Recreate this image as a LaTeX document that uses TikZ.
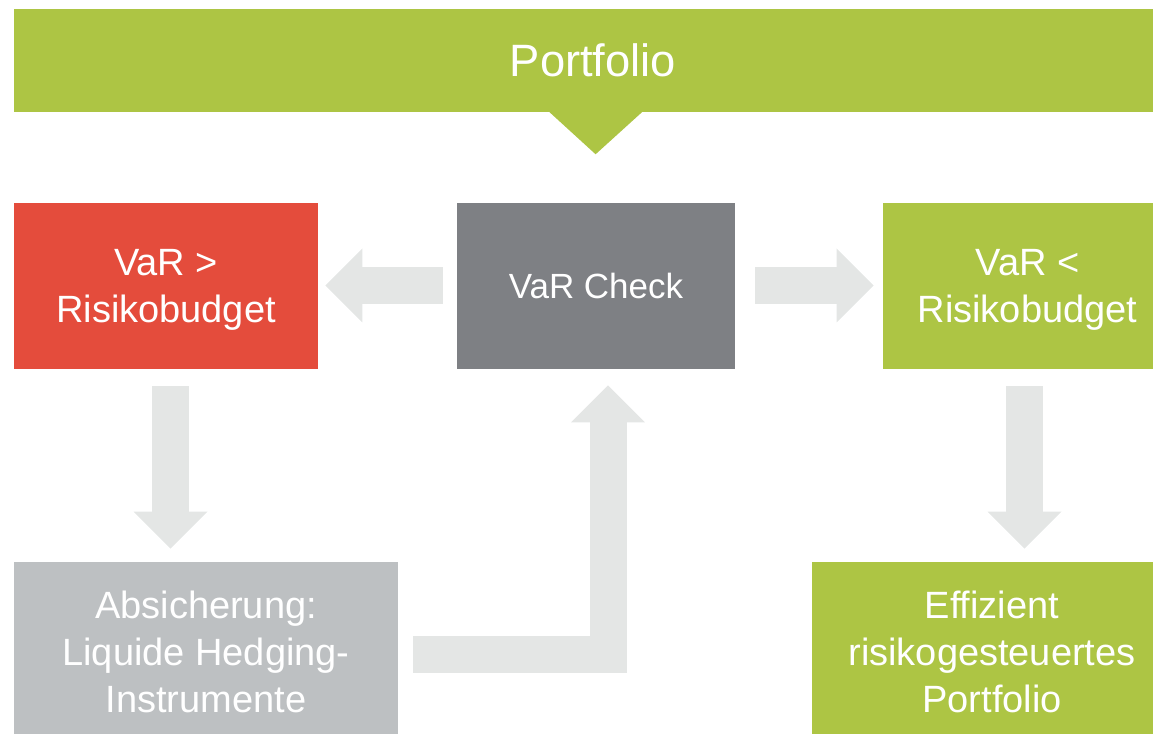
\documentclass[tikz,border=0pt]{standalone}
\usepackage{fontspec}
\setmainfont{Liberation Sans}
\usetikzlibrary{arrows.meta,calc}
\definecolor{gruen}{RGB}{173,197,68}
\definecolor{rot}{RGB}{228,76,60}
\definecolor{dunkelgrau}{RGB}{126,128,132}
\definecolor{hellgrau}{RGB}{189,192,194}
\definecolor{pfeilgrau}{RGB}{228,230,229}

\begin{document}
\begin{tikzpicture}[x=0.75pt,y=-0.75pt,line join=miter,
		box/.style={fill=#1,text=white,inner sep=0pt,text depth=0pt,align=center,font=\fontsize{28.5}{35.25}\selectfont},
		pfeil/.style={draw=pfeilgrau,line width=27.75pt,-{Triangle[length=27.75pt,width=55.5pt,line width=0pt]}}]
	\clip (0,0) rectangle (1153,734);
	% Kopfzeile
	\node[box=gruen,minimum width=868.5pt,minimum height=77.25pt,font=\fontsize{34}{40}\selectfont] (portfolio) at (593,60.5) {Portfolio};
	\fill[gruen] ($(portfolio.south)+(-44.5,-1)$) -- ($(portfolio.south)+(2.6,42)$) -- ($(portfolio.south)+(50,-1)$) -- cycle;
	% mittlere Reihe
	\node[box=rot,minimum width=228pt,minimum height=124.5pt] (groesser) at (166,286) {VaR >\\Risikobudget};
	\node[box=dunkelgrau,minimum width=208.5pt,minimum height=124.5pt,font=\fontsize{26.25}{32}\selectfont] (check) at (596,286) {VaR Check};
	\node[box=gruen,minimum width=216.75pt,minimum height=124.5pt] (kleiner) at (1027.5,286) {VaR <\\Risikobudget};
	% untere Reihe
	\node[box=hellgrau,minimum width=288pt,minimum height=134.25pt] (hedge) at (206,651.5) {Absicherung:\\Liquide Hedging-\\Instrumente};
	\node[box=gruen,minimum width=270pt,minimum height=134.25pt] (effizient) at (992,651.5) {Effizient\\risikogesteuertes\\Portfolio};
	% Pfeile
	\coordinate (d1) at ($(groesser.south)+(4.5,17)$);
	\coordinate (d2) at ($(kleiner.south)+(-3,17)$);
	\draw[pfeil] ($(check.west)+(-13.5,-0.5)$) -- ($(groesser.east)+(7,-0.5)$);
	\draw[pfeil] ($(check.east)+(20,-0.5)$) -- ($(kleiner.west)+(-9,-0.5)$);
	\draw[pfeil] (d1) -- ($(d1 |- hedge.north)+(0,-13)$);
	\draw[pfeil] (d2) -- ($(d2 |- effizient.north)+(0,-13)$);
	\draw[pfeil] ($(hedge.east)+(15,3)$) -| ($(check.south)+(12,16)$);
\end{tikzpicture}
\end{document}
